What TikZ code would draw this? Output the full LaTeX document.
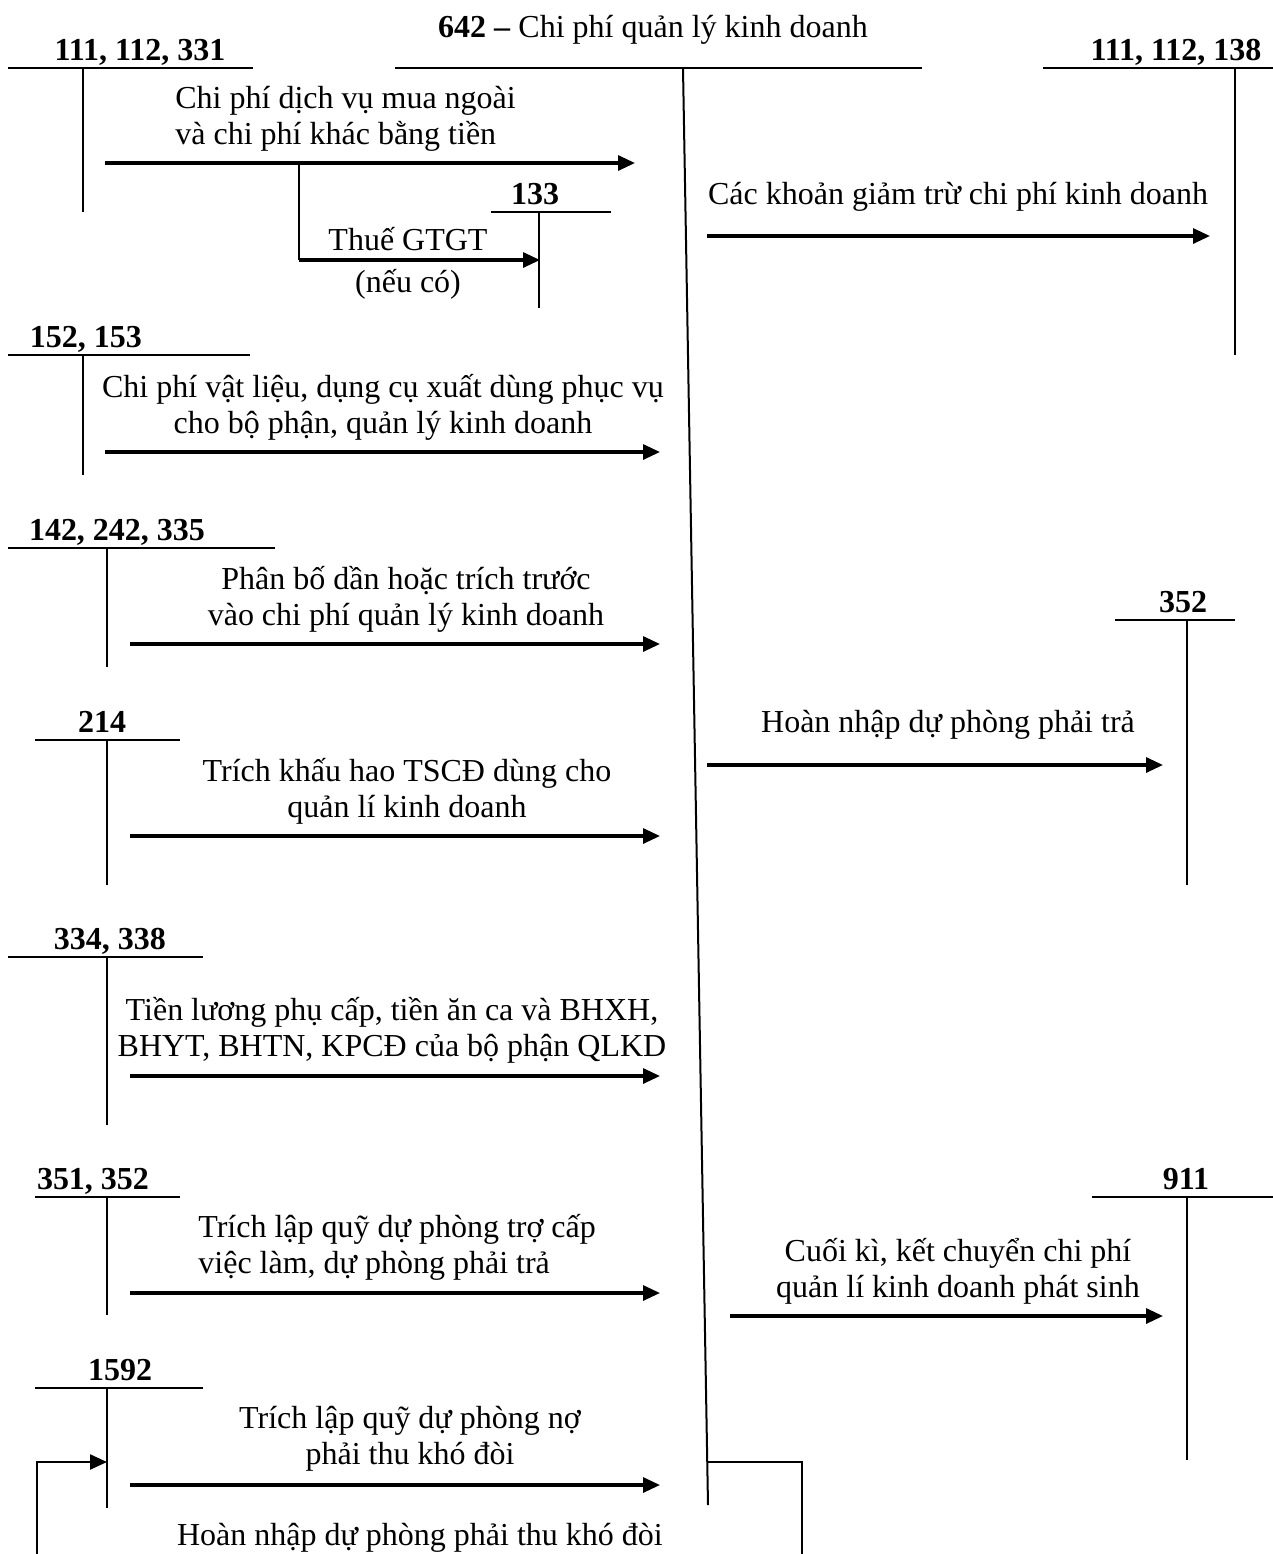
\documentclass[tikz,border=0pt]{standalone}
\usepackage{fontspec}
\setmainfont{Liberation Serif}
\usetikzlibrary{arrows.meta}
\newcommand{\diagfont}{\fontsize{16}{18}\selectfont}
\tikzset{
  acline/.style={line width=1pt},
  flow/.style={-{Triangle[length=8.5pt,width=7.5pt]}, line width=1.6pt},
  backflow/.style={flow, line width=1.2pt},
  aclabel/.style={font=\diagfont\bfseries, inner sep=0pt, anchor=base},
  note/.style={align=center, inner sep=1pt},
  noteleft/.style={align=left, inner sep=1pt, anchor=west}
}
% #1 name, #2 label, #3 label x, #4 left x, #5 right x, #6 stem x, #7 top y, #8 bottom y
\newcommand{\taccount}[8]{%
  \coordinate (#1-l) at (#4,#7);
  \coordinate (#1-r) at (#5,#7);
  \coordinate (#1-t) at (#6,#7);
  \coordinate (#1-b) at (#6,#8);
  \node[aclabel] (#1-lab) at (#3,#7-8) {#2};
  \draw[acline] (#1-l) -- (#1-r);
  \draw[acline] (#1-t) -- (#1-b);
}
% #1 name, #2 start x, #3 end x, #4 y
\newcommand{\flowarrow}[4]{%
  \coordinate (#1-s) at (#2,#4);
  \coordinate (#1-e) at (#3,#4);
  \draw[flow] (#1-s) -- (#1-e);
}

\begin{document}
\begin{tikzpicture}[x=0.5pt, y=-0.5pt, font=\diagfont]
  \useasboundingbox (0,0) rectangle (1273,1554);

  % main account 642
  \node[inner sep=0pt, anchor=base] (title) at (653,37) {\textbf{642 –} Chi phí quản lý kinh doanh};
  \coordinate (m-l) at (395,68);
  \coordinate (m-r) at (922,68);
  \coordinate (m-t) at (683,68);
  \coordinate (m-b) at (708,1505);
  \draw[acline] (m-l) -- (m-r);
  \draw[acline] (m-t) -- (m-b);

  % accounts on the left
  \taccount{a111}{111, 112, 331}{140}{8}{253}{83}{68}{212}
  \taccount{a133}{133}{535}{491}{611}{539}{212}{308}
  \taccount{a152}{152, 153}{86}{8}{250}{83}{355}{475}
  \taccount{a142}{142, 242, 335}{117}{8}{275}{107}{548}{667}
  \taccount{a214}{214}{102}{35}{180}{107}{740}{885}
  \taccount{a334}{334, 338}{110}{8}{203}{107}{957}{1125}
  \taccount{a351}{351, 352}{93}{35}{180}{107}{1197}{1315}
  \taccount{a1592}{1592}{120}{35}{203}{107}{1388}{1508}

  % accounts on the right
  \taccount{b111}{111, 112, 138}{1176}{1043}{1273}{1235}{68}{355}
  \taccount{b352}{352}{1183}{1115}{1235}{1187}{620}{885}
  \taccount{b911}{911}{1186}{1092}{1273}{1187}{1197}{1460}

  % debit side
  \flowarrow{f111}{105}{635}{163}
  \node[noteleft] (n111) at (173,119) {Chi phí dịch vụ mua ngoài\\và chi phí khác bằng tiền};
  \coordinate (vat-k) at (299,163);
  \coordinate (vat-c) at (299,260);
  \coordinate (vat-e) at (540,260);
  \draw[acline] (vat-k) -- (vat-c);
  \draw[flow] (vat-c) -- (vat-e);
  \node[note] (nvat) at (408,263) {Thuế GTGT\\[3pt](nếu có)};

  \flowarrow{f152}{105}{660}{452}
  \node[note] (n152) at (383,407) {Chi phí vật liệu, dụng cụ xuất dùng phục vụ\\cho bộ phận, quản lý kinh doanh};

  \flowarrow{f142}{130}{660}{644}
  \node[note] (n142) at (406,599) {Phân bố dần hoặc trích trước\\vào chi phí quản lý kinh doanh};

  \flowarrow{f214}{130}{660}{836}
  \node[note] (n214) at (407,791) {Trích khấu hao TSCĐ dùng cho\\quản lí kinh doanh};

  \flowarrow{f334}{130}{660}{1076}
  \node[note] (n334) at (392,1030) {Tiền lương phụ cấp, tiền ăn ca và BHXH,\\BHYT, BHTN, KPCĐ của bộ phận QLKD};

  \flowarrow{f351}{130}{660}{1293}
  \node[noteleft] (n351) at (196,1247) {Trích lập quỹ dự phòng trợ cấp\\việc làm, dự phòng phải trả};

  \flowarrow{f1592}{130}{660}{1485}
  \node[note] (n1592) at (410,1439) {Trích lập quỹ dự phòng nợ\\phải thu khó đòi};

  % credit side
  \flowarrow{g111}{707}{1210}{236}
  \node[note] (g111n) at (958,197) {Các khoản giảm trừ chi phí kinh doanh};

  \flowarrow{g352}{707}{1163}{765}
  \node[note] (g352n) at (948,725) {Hoàn nhập dự phòng phải trả};

  \flowarrow{g911}{730}{1163}{1316}
  \node[note] (g911n) at (958,1271) {Cuối kì, kết chuyển chi phí\\quản lí kinh doanh phát sinh};

  % reversal back to 1592
  \coordinate (r-a) at (708,1462);
  \coordinate (r-b) at (802,1462);
  \coordinate (r-c) at (802,1554);
  \coordinate (r-d) at (37,1554);
  \coordinate (r-e) at (37,1462);
  \coordinate (r-f) at (107,1462);
  \draw[acline] (r-a) -- (r-b) -- (r-c);
  \draw[backflow] (r-d) -- (r-e) -- (r-f);
  \node[note] (nrev) at (420,1538) {Hoàn nhập dự phòng phải thu khó đòi};
\end{tikzpicture}
\end{document}
